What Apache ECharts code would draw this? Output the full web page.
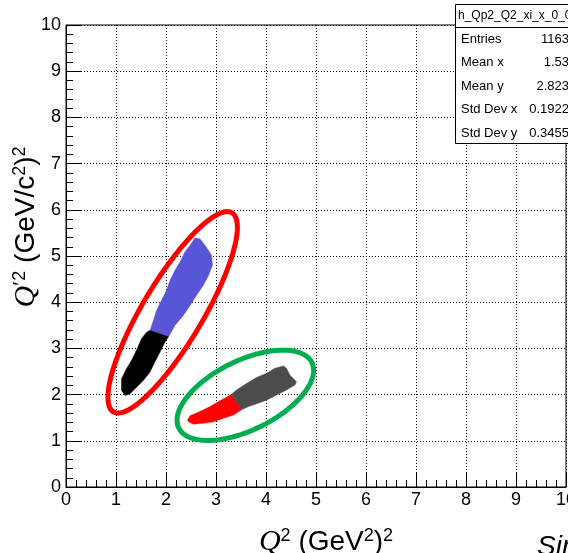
<!DOCTYPE html>
<html><head><meta charset="utf-8">
<script src="https://cdn.jsdelivr.net/npm/echarts@6/dist/echarts.min.js"></script>
<style>html,body{margin:0;padding:0;background:#fff}#c{width:568px;height:553px}</style>
</head><body><div id="c"></div>
<script>
// Outlines of the filled 2D-histogram regions (Q^2, Q'^2)
const blueBlob = [[2.58,5.39],[2.68,5.37],[2.78,5.23],[2.91,5.02],[2.93,4.80],[2.85,4.58],[2.75,4.37],[2.61,4.15],[2.48,3.93],[2.35,3.72],[2.18,3.50],[2.05,3.25],[1.68,3.39],[1.75,3.61],[1.81,3.82],[1.91,4.04],[2.01,4.26],[2.08,4.47],[2.18,4.69],[2.28,4.87],[2.38,5.09],[2.48,5.23]];
const blackBlob = [[1.68,3.39],[2.05,3.25],[1.98,3.14],[1.88,2.92],[1.78,2.71],[1.68,2.49],[1.55,2.31],[1.41,2.16],[1.28,2.02],[1.18,1.98],[1.11,2.09],[1.11,2.34],[1.21,2.56],[1.31,2.74],[1.41,2.96],[1.51,3.21],[1.61,3.35]];
const redBlob = [[2.43,1.45],[2.48,1.54],[2.61,1.60],[2.75,1.67],[2.88,1.74],[3.05,1.85],[3.21,1.94],[3.31,2.01],[3.51,1.67],[3.35,1.56],[3.15,1.49],[2.95,1.41],[2.75,1.38],[2.55,1.36],[2.45,1.41]];
const grayBlob = [[3.31,2.01],[3.41,2.10],[3.61,2.24],[3.81,2.37],[4.01,2.46],[4.18,2.57],[4.35,2.62],[4.41,2.57],[4.48,2.42],[4.61,2.28],[4.58,2.21],[4.41,2.10],[4.21,1.99],[4.01,1.88],[3.81,1.80],[3.65,1.74],[3.51,1.67]];
// Annotation ellipses: centre and two conjugate semi-axis vectors (data units)
const redEllipseCenter = [2.133,3.781], redEllipseA = [1.186,2.154], redEllipseB = [0.519,-0.335];
const greenEllipseCenter = [3.587,1.985], greenEllipseA = [1.331,0.708], greenEllipseB = [0.306,-0.674];
// Stats box
const histName = 'h_Qp2_Q2_xi_x_0_0';
const statLabels = ['Entries','Mean x','Mean y','Std Dev x','Std Dev y'];
const statValues = ['1163','1.53','2.823','0.1922','0.3455'];

const SANS = 'Liberation Sans, Arial, Helvetica, sans-serif';
const SERIF = 'Liberation Serif, Times New Roman, serif';

function polySeries(pts, color){
  return {type:'custom', coordinateSystem:'cartesian2d', silent:true, z:3, data:[pts[0]],
    renderItem:(params, api)=>({type:'polygon', shape:{points: pts.map(p=>api.coord(p))}, style:{fill:color, stroke:color, lineWidth:0.5}})};
}
function ellipseSeries(c, a, b, color){
  return {type:'custom', coordinateSystem:'cartesian2d', silent:true, z:4, data:[c],
    renderItem:(params, api)=>{
      const pts=[];
      for(let i=0;i<180;i++){const t=i/180*2*Math.PI;
        pts.push(api.coord([c[0]+Math.cos(t)*a[0]+Math.sin(t)*b[0], c[1]+Math.cos(t)*a[1]+Math.sin(t)*b[1]]));}
      return {type:'polygon', shape:{points:pts}, style:{fill:'none', stroke:color, lineWidth:5}};
    }};
}
function axisCommon(){
  return {type:'value', min:0, max:10, interval:1,
    axisLine:{show:true, lineStyle:{color:'#000', width:1}},
    axisTick:{show:true, inside:true, length:15, lineStyle:{color:'#000'}},
    minorTick:{show:true, splitNumber:5, length:7, lineStyle:{color:'#000'}},
    splitLine:{show:true, lineStyle:{type:[1,2], color:'#000', width:1}},
    axisLabel:{show:true, color:'#000', fontFamily:SANS, fontSize:18, showMinLabel:true, showMaxLabel:true, hideOverlap:false}};
}
const xA = axisCommon(); xA.axisLabel.margin = 4;
const yA = axisCommon(); yA.axisLabel.margin = 5;

const supR = {fontFamily:SANS, fontSize:18, padding:[0,0,12,0], fill:'#000'};
const graphics = [
  {type:'text', x:26, y:227, rotation:Math.PI/2, z:10,
   style:{text:'{q|Q}{p|′}{s|2}{n| (GeV/c}{s|2}{n|)}{s|2}', align:'center', verticalAlign:'middle', textAlign:'center', textVerticalAlign:'middle',
     rich:{q:{fontFamily:SERIF, fontStyle:'italic', fontSize:30, fill:'#000'}, p:{fontFamily:SERIF, fontSize:24, fill:'#000', padding:[0,0,8,0]}, s:supR, n:{fontFamily:SANS, fontSize:28, fill:'#000'}}}},
  {type:'text', x:326, y:542, z:10,
   style:{text:'{q|Q}{s|2}{n| (GeV}{s|2}{n|)}{s|2}', align:'center', verticalAlign:'middle', textAlign:'center', textVerticalAlign:'middle',
     rich:{q:{fontFamily:SERIF, fontStyle:'italic', fontSize:30, fill:'#000'}, s:supR, n:{fontFamily:SANS, fontSize:28, fill:'#000'}}}},
  {type:'text', x:537, y:533, z:10,
   style:{text:'Simulation', font:'italic 28px '+SANS, fill:'#000', align:'left', verticalAlign:'top', textAlign:'left', textVerticalAlign:'top'}},
  {type:'rect', shape:{x:455.5, y:4.5, width:130, height:139}, z:20, style:{fill:'#fff', stroke:'#000', lineWidth:1}},
  {type:'line', shape:{x1:455.5, y1:27.5, x2:580, y2:27.5}, z:21, style:{stroke:'#000', lineWidth:1}},
  {type:'text', x:458, y:16, z:22, style:{text:histName, font:'12px '+SANS, fill:'#000', align:'left', verticalAlign:'middle', textAlign:'left', textVerticalAlign:'middle'}}
];
const rowY = [39, 62.5, 86, 109.5, 133];
statLabels.forEach((l,i)=>{
  graphics.push({type:'text', x:461, y:rowY[i], z:22, style:{text:l, font:'13px '+SANS, fill:'#000', align:'left', verticalAlign:'middle', textAlign:'left', textVerticalAlign:'middle'}});
  graphics.push({type:'text', x:569, y:rowY[i], z:22, style:{text:statValues[i], font:'13px '+SANS, fill:'#000', align:'right', verticalAlign:'middle', textAlign:'right', textVerticalAlign:'middle'}});
});

const chart = echarts.init(document.getElementById('c'), null, {renderer:'canvas'});
chart.setOption({
  animation:false,
  backgroundColor:'#fff',
  grid:{left:66, right:2, top:25, bottom:66, containLabel:false, outerBoundsMode:'none', show:true, borderColor:'#000', borderWidth:1, backgroundColor:'transparent'},
  xAxis:xA, yAxis:yA,
  series:[
    polySeries(blueBlob,'#5856d6'),
    polySeries(blackBlob,'#000000'),
    polySeries(redBlob,'#ff0000'),
    polySeries(grayBlob,'#4c4c4c'),
    ellipseSeries(redEllipseCenter, redEllipseA, redEllipseB, '#ff0000'),
    ellipseSeries(greenEllipseCenter, greenEllipseA, greenEllipseB, '#00ad4f')
  ],
  graphic:graphics
});
</script></body></html>
